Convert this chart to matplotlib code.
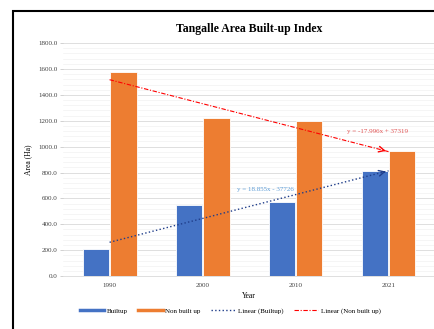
import matplotlib
matplotlib.use('Agg')
import matplotlib.pyplot as plt
import numpy as np
from matplotlib.patches import Rectangle
from matplotlib.lines import Line2D
from matplotlib.ticker import MultipleLocator

plt.rcParams['font.family'] = 'Liberation Serif'

years = ['1990', '2000', '2010', '2021']
builtup = [210, 548, 575, 815]
non_builtup = [1575, 1220, 1197, 965]
eq_built = 'y = 18.855x - 37726'
eq_non = 'y = -17.996x + 37319'

blue = '#4472C4'
orange = '#ED7D31'
tb_col = '#1F3D8A'
tn_col = '#FF0000'
tn_style = (0, (4, 1.5, 1, 1.5))

fig = plt.figure(figsize=(4.35, 3.29), dpi=100)
ax = fig.add_axes([0.145, 0.161, 0.855, 0.708])

# outer frame
fig.patches.append(Rectangle((0.03, -0.05), 1.1, 1.017, transform=fig.transFigure,
                             fill=False, edgecolor='black', linewidth=1.5))

x = np.arange(len(years))
w = 0.28
ax.bar(x - 0.15, builtup, w, color=blue, edgecolor='white', linewidth=0.6, zorder=3)
ax.bar(x + 0.15, non_builtup, w, color=orange, edgecolor='white', linewidth=0.6, zorder=3)

# linear trendlines (Excel uses category index 1..n)
xi = x + 1
pb = np.polyfit(xi, builtup, 1)
pn = np.polyfit(xi, non_builtup, 1)
tb = np.polyval(pb, xi)
tn = np.polyval(pn, xi)
ax.plot(x, tb, color=tb_col, linestyle=':', linewidth=1.0, zorder=4)
ax.plot(x, tn, color=tn_col, linestyle=tn_style, linewidth=0.8, zorder=4)
ax.annotate('', xy=(x[-1], tb[-1]), xytext=(x[-1] - 0.08, tb[-1] - 0.08 * pb[0]),
            arrowprops=dict(arrowstyle='->', color=tb_col, lw=1.0), zorder=5)
ax.annotate('', xy=(x[-1], tn[-1]), xytext=(x[-1] - 0.08, tn[-1] - 0.08 * pn[0]),
            arrowprops=dict(arrowstyle='->', color=tn_col, lw=1.0), zorder=5)

ax.text(1.37, 670, eq_built, fontsize=5, color='#5B9BD5', ha='left', va='center', zorder=6)
ax.text(2.55, 1120, eq_non, fontsize=5, color='#E05050', ha='left', va='center', zorder=6)

ax.set_xlim(-0.5, 3.5)
ax.set_ylim(0, 1800)
ax.set_xticks(x)
ax.set_xticklabels(years)
ax.yaxis.set_major_locator(MultipleLocator(200))
ax.yaxis.set_minor_locator(MultipleLocator(40))
ax.set_yticklabels(['%.1f' % v for v in ax.get_yticks()])
ax.grid(axis='y', which='major', color='#D9D9D9', linewidth=0.6, zorder=0)
ax.grid(axis='y', which='minor', color='#F2F2F2', linewidth=0.5, zorder=0)
ax.tick_params(axis='both', labelsize=5, colors='#404040')
ax.tick_params(axis='x', length=0, pad=5)
ax.tick_params(axis='y', which='major', length=2, width=0.5, color='#BFBFBF', pad=2)
ax.tick_params(axis='y', which='minor', length=0)
for s in ['top', 'right', 'left']:
    ax.spines[s].set_visible(False)
ax.spines['bottom'].set_color('#D9D9D9')
ax.spines['bottom'].set_linewidth(0.6)

ax.set_title('Tangalle Area Built-up Index', fontsize=8.5, fontweight='bold', pad=8)
ax.set_ylabel('Area (Ha)', fontsize=5.5, labelpad=4)
ax.set_xlabel('Year', fontsize=5.5, labelpad=3)

handles = [Line2D([], [], color=blue, linewidth=2.5),
           Line2D([], [], color=orange, linewidth=2.5),
           Line2D([], [], color=tb_col, linestyle=':', linewidth=1.0),
           Line2D([], [], color=tn_col, linestyle=tn_style, linewidth=0.8)]
labels = ['Builtup', 'Non built up', 'Linear (Builtup)', 'Linear (Non built up)']
ax.legend(handles, labels, loc='upper center', bbox_to_anchor=(0.45, -0.11), ncol=4, frameon=False,
          fontsize=5, handlelength=3.5, columnspacing=1.5, handletextpad=0.4)

fig.savefig('out.png', dpi=100)
